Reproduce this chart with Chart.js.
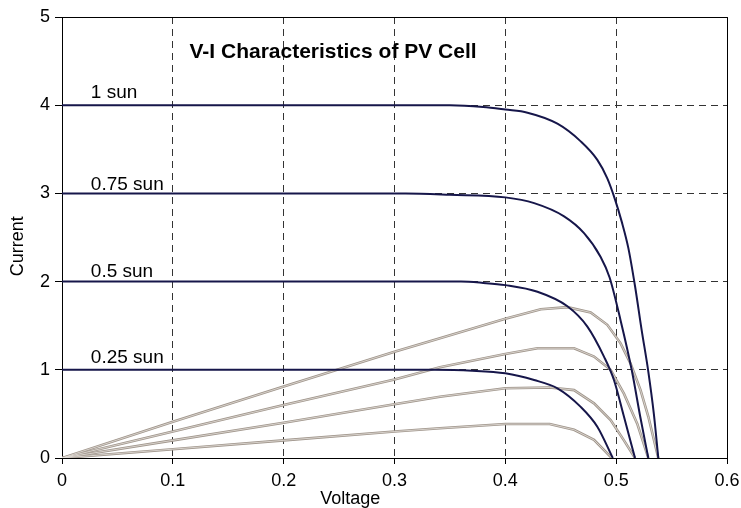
<!DOCTYPE html>
<html>
<head>
<meta charset="utf-8">
<title>V-I Characteristics of PV Cell</title>
<script src="https://cdn.jsdelivr.net/npm/chart.js@4.4.1/dist/chart.umd.min.js"></script>
<style>
  html, body { margin: 0; padding: 0; background: #fff; }
  #wrap { width: 741px; height: 508px; }
</style>
</head>
<body>
<div id="wrap"><canvas id="pv" width="741" height="508"></canvas></div>
<script>
// axis ticks
const xTickLabels = ['0', '0.1', '0.2', '0.3', '0.4', '0.5', '0.6'];
const yTickLabels = ['0', '1', '2', '3', '4', '5'];

// I-V curves (voltage, current)
const iv1V = [0, 0.35, 0.38, 0.40, 0.42, 0.447, 0.468, 0.483, 0.492, 0.499, 0.505, 0.511, 0.517, 0.523, 0.529, 0.534, 0.538];
const iv1I = [4, 4, 3.98, 3.95, 3.915, 3.79, 3.59, 3.38, 3.17, 2.93, 2.68, 2.38, 1.95, 1.45, 0.98, 0.5, 0];

const iv075V = [0, 0.31, 0.35, 0.40, 0.426, 0.453, 0.471, 0.486, 0.494, 0.504, 0.514, 0.522, 0.529];
const iv075I = [3, 3, 2.985, 2.955, 2.89, 2.74, 2.55, 2.28, 2.05, 1.56, 1.0, 0.45, 0];

const iv05V = [0, 0.36, 0.38, 0.40, 0.429, 0.456, 0.474, 0.489, 0.498, 0.507, 0.517];
const iv05I = [2, 2, 1.985, 1.96, 1.885, 1.72, 1.49, 1.15, 0.885, 0.47, 0];

const iv025V = [0, 0.335, 0.37, 0.40, 0.426, 0.447, 0.468, 0.483, 0.497];
const iv025I = [1, 1, 0.99, 0.96, 0.884, 0.79, 0.58, 0.355, 0];

// power curves (voltage, power)
const p1V = [0, 0.1, 0.2, 0.3, 0.341, 0.4, 0.432, 0.456, 0.477, 0.492, 0.504, 0.513, 0.522, 0.529, 0.538];
const p1P = [0, 0.41, 0.81, 1.205, 1.357, 1.58, 1.686, 1.71, 1.65, 1.51, 1.30, 1.07, 0.77, 0.47, 0];

const p075V = [0, 0.1, 0.2, 0.3, 0.341, 0.4, 0.429, 0.462, 0.48, 0.495, 0.507, 0.519, 0.529];
const p075P = [0, 0.30, 0.60, 0.89, 1.03, 1.18, 1.245, 1.245, 1.15, 1.0, 0.73, 0.39, 0];

const p05V = [0, 0.1, 0.2, 0.3, 0.341, 0.4, 0.44, 0.462, 0.48, 0.495, 0.507, 0.517];
const p05P = [0, 0.20, 0.40, 0.61, 0.695, 0.79, 0.80, 0.77, 0.62, 0.43, 0.20, 0];

const p025V = [0, 0.1, 0.2, 0.3, 0.341, 0.4, 0.44, 0.462, 0.48, 0.496];
const p025P = [0, 0.10, 0.20, 0.30, 0.337, 0.385, 0.385, 0.32, 0.205, 0];

const sunLabels = ['1 sun', '0.75 sun', '0.5 sun', '0.25 sun'];
const chartTitle = 'V-I Characteristics of PV Cell';
const xTitle = 'Voltage';
const yTitle = 'Current';

const FONT = "'Liberation Sans', Arial, Helvetica, sans-serif";
const NAVY = '#16164a';
const GREY = '#a0968c';

function pts(xs, ys) {
  return xs.map((x, i) => ({ x: x, y: ys[i] }));
}

function ivSet(xs, ys) {
  return {
    data: pts(xs, ys),
    borderColor: NAVY,
    borderWidth: 2,
    cubicInterpolationMode: 'monotone',
    order: 1
  };
}

// power curves look like a thin double line: grey stroke with a pale core
function powerSets(xs, ys) {
  return [
    { data: pts(xs, ys), borderColor: GREY, borderWidth: 2.6, tension: 0, order: 3 },
    { data: pts(xs, ys), borderColor: '#e6e1dc', borderWidth: 0.8, tension: 0, order: 2 }
  ];
}

// frame and in-plot texts
const extras = {
  id: 'extras',
  afterDraw(chart) {
    const ctx = chart.ctx;
    const x = chart.scales.x;
    const y = chart.scales.y;
    const L = Math.round(x.getPixelForValue(0)) + 0.5;
    const R = Math.round(x.getPixelForValue(0.6)) + 0.5;
    const T = Math.round(y.getPixelForValue(5)) + 0.5;
    const B = Math.round(y.getPixelForValue(0)) + 0.5;
    ctx.save();
    ctx.strokeStyle = '#000';
    ctx.lineWidth = 1;
    ctx.setLineDash([]);
    ctx.beginPath();
    ctx.moveTo(L, T); ctx.lineTo(R, T); ctx.lineTo(R, B);
    ctx.stroke();

    ctx.fillStyle = '#000';
    ctx.textBaseline = 'alphabetic';
    ctx.textAlign = 'left';
    ctx.font = 'bold 21px ' + FONT;
    ctx.fillText(chartTitle, x.getPixelForValue(0.115), y.getPixelForValue(4.535));

    ctx.font = '19px ' + FONT;
    const levels = [4, 3, 2, 1];
    const lift = [7, 3, 5, 7];
    sunLabels.forEach((t, i) => {
      ctx.fillText(t, x.getPixelForValue(0.026), y.getPixelForValue(levels[i]) - lift[i]);
    });

    // axis titles
    ctx.font = '18px ' + FONT;
    ctx.textAlign = 'center';
    ctx.textBaseline = 'middle';
    ctx.fillText(xTitle, x.getPixelForValue(0.26), 499);
    ctx.translate(18, y.getPixelForValue(2.4));
    ctx.rotate(-Math.PI / 2);
    ctx.fillText(yTitle, 0, 0);
    ctx.restore();
  }
};

new Chart(document.getElementById('pv'), {
  type: 'scatter',
  data: {
    datasets: [
      ivSet(iv1V, iv1I),
      ivSet(iv075V, iv075I),
      ivSet(iv05V, iv05I),
      ivSet(iv025V, iv025I),
      ...powerSets(p1V, p1P),
      ...powerSets(p075V, p075P),
      ...powerSets(p05V, p05P),
      ...powerSets(p025V, p025P)
    ]
  },
  options: {
    responsive: false,
    animation: false,
    showLine: true,
    elements: { point: { radius: 0, hoverRadius: 0 } },
    layout: { padding: { top: 17, right: 14, left: 0, bottom: 0 } },
    plugins: {
      legend: { display: false },
      tooltip: { enabled: false }
    },
    scales: {
      x: {
        type: 'linear',
        min: 0,
        max: 0.6,
        afterFit: s => { s.height = 50; s.paddingLeft = 0; s.paddingRight = 0; },
        afterBuildTicks: s => { s.ticks = xTickLabels.map(v => ({ value: parseFloat(v) })); },
        ticks: {
          callback: (v, i) => xTickLabels[i],
          color: '#000',
          padding: 6,
          maxRotation: 0,
          font: { family: FONT, size: 18 }
        },
        grid: { color: '#333', lineWidth: 1, tickLength: 6, tickColor: '#000' },
        border: { display: true, color: '#000', width: 1, dash: [7, 5] }
      },
      y: {
        type: 'linear',
        min: 0,
        max: 5,
        afterFit: s => { s.width = 62; s.paddingTop = 0; s.paddingBottom = 0; },
        afterBuildTicks: s => { s.ticks = yTickLabels.map(v => ({ value: parseFloat(v) })); },
        ticks: {
          callback: (v, i) => yTickLabels[i],
          color: '#000',
          padding: 5,
          font: { family: FONT, size: 18 }
        },
        grid: { color: '#333', lineWidth: 1, tickLength: 7, tickColor: '#000' },
        border: { display: true, color: '#000', width: 1, dash: [7, 5] }
      }
    }
  },
  plugins: [extras]
});
</script>
</body>
</html>
